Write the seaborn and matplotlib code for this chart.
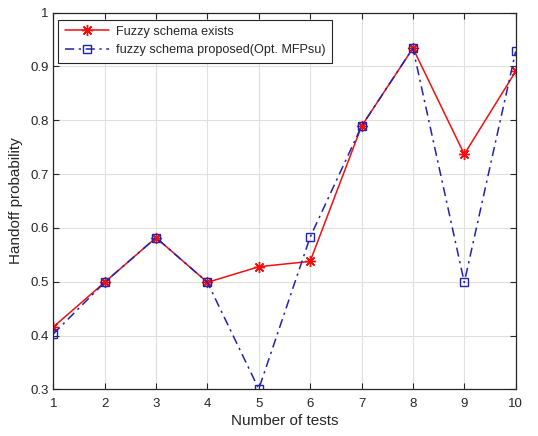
import matplotlib
matplotlib.use("Agg")
import matplotlib.pyplot as plt
import seaborn as sns
import pandas as pd

tests = [1, 2, 3, 4, 5, 6, 7, 8, 9, 10]
existing = [0.416, 0.499, 0.582, 0.499, 0.528, 0.538, 0.789, 0.934, 0.737, 0.891]
proposed = [0.403, 0.499, 0.582, 0.499, 0.301, 0.583, 0.789, 0.934, 0.499, 0.928]
label_existing = "Fuzzy schema exists"
label_proposed = "fuzzy schema proposed(Opt. MFPsu)"
xticks = list(range(1, 11))
yticks = [0.3, 0.4, 0.5, 0.6, 0.7, 0.8, 0.9, 1.0]
yticklabels = ["0.3", "0.4", "0.5", "0.6", "0.7", "0.8", "0.9", "1"]

sns.set_theme(style="ticks")
plt.rcParams['font.family'] = ['Liberation Sans', 'DejaVu Sans']

fig = plt.figure(figsize=(5.38, 4.36), dpi=100)
ax = fig.add_axes([0.099, 0.1067, 0.8595, 0.8643])

df = pd.DataFrame({"x": tests, "a": existing, "b": proposed})
sns.lineplot(data=df, x="x", y="a", ax=ax, color="#f01010", lw=1.1,
             marker=(8, 2, 0), markersize=8, markeredgecolor="#f01010",
             markeredgewidth=1.0, label=label_existing)
sns.lineplot(data=df, x="x", y="b", ax=ax, color="#2222b0", lw=1.1,
             linestyle=(0, (6, 3, 1.5, 3)), marker="s", markersize=5.5,
             markeredgecolor="#2222b0", markerfacecolor="none",
             markeredgewidth=1.0, label=label_proposed)

ax.set_xlim(1, 10)
ax.set_ylim(0.3, 1.0)
ax.set_xticks(xticks)
ax.set_yticks(yticks)
ax.set_yticklabels(yticklabels)
ax.grid(True, color="#e0e0e0", lw=0.8)
ax.set_axisbelow(True)
for s in ax.spines.values():
    s.set_color("#262626")
    s.set_linewidth(0.9)
ax.tick_params(direction="in", top=True, right=True, length=4,
               colors="#262626", labelsize=9.5, width=0.8)
ax.tick_params(axis="x", pad=6)
ax.set_xlabel("Number of tests", fontsize=11, color="#262626", labelpad=3)
ax.set_ylabel("Handoff probability", fontsize=11, color="#262626", labelpad=5)

leg = ax.legend(loc="upper left", fontsize=9.1, frameon=True, fancybox=False,
                edgecolor="#262626", framealpha=1, handlelength=3.5,
                handletextpad=0.6, bbox_to_anchor=(0.0, 0.995),
                borderaxespad=0.4, borderpad=0.5, labelspacing=0.5)
leg.get_frame().set_linewidth(0.8)

fig.savefig("out.png", dpi=100)
